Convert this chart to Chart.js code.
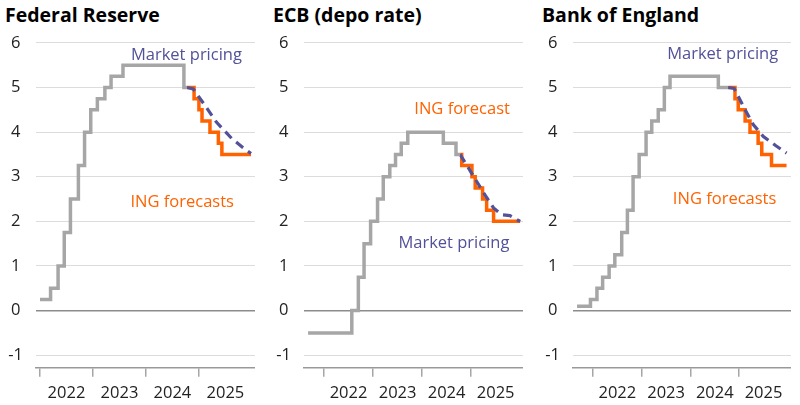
<!DOCTYPE html>
<html>
<head>
<meta charset="utf-8">
<script src="https://cdn.jsdelivr.net/npm/chart.js@4.4.1/dist/chart.umd.min.js"></script>
<style>
body { margin: 0; width: 800px; height: 405px; background: #fff; overflow: hidden; position: relative; font-family: "Open Sans", sans-serif; }
.title { position: absolute; top: 2px; font-weight: bold; font-size: 19.5px; color: #000; line-height: 26px; }
canvas { position: absolute; top: 20px; }
</style>
</head>
<body>
<div class="title" style="left:5px">Federal Reserve</div>
<div class="title" style="left:273px">ECB (depo rate)</div>
<div class="title" style="left:542px">Bank of England</div>
<canvas id="fed" width="255" height="385" style="left:0px"></canvas>
<canvas id="ecb" width="255" height="385" style="left:268px"></canvas>
<canvas id="boe" width="254" height="385" style="left:537px"></canvas>
<script>
// x values are months since Jan 2022
const yearTicks = [0, 12, 24, 36];
const rateTicks = [-1, 0, 1, 2, 3, 4, 5, 6];

const fedHistX = [0, 2.4, 4.1, 5.5, 6.9, 8.7, 10.1, 11.5, 13.0, 14.7, 16.1, 18.8, 32.6, 33.3];
const fedHistY = [0.25, 0.5, 1.0, 1.75, 2.5, 3.25, 4.0, 4.5, 4.75, 5.0, 5.25, 5.5, 5.0, 5.0];
const fedFcstX = [33.3, 34.9, 36.0, 36.7, 38.5, 40.4, 41.2, 47.8];
const fedFcstY = [5.0, 4.75, 4.5, 4.25, 4.0, 3.75, 3.5, 3.5];
const fedMktX = [33.3, 34.7, 37.7, 40.0, 43.4, 46.0, 47.8];
const fedMktY = [5.0, 4.97, 4.55, 4.22, 3.86, 3.65, 3.52];

const ecbHistX = [-3.9, 6.8, 8.4, 9.8, 11.4, 13.1, 14.5, 16.1, 17.5, 18.9, 20.5, 29.2, 32.3, 33.3];
const ecbHistY = [-0.5, 0, 0.75, 1.5, 2.0, 2.5, 3.0, 3.25, 3.5, 3.75, 4.0, 3.75, 3.5, 3.5];
const ecbFcstX = [33.3, 33.7, 36.2, 37.0, 38.8, 39.8, 41.5, 48.0];
const ecbFcstY = [3.5, 3.25, 3.0, 2.75, 2.5, 2.25, 2.0, 2.0];
const ecbMktX = [33.3, 36.0, 39.0, 41.5, 43.5, 45.5, 48.0];
const ecbMktY = [3.5, 3.1, 2.65, 2.3, 2.15, 2.13, 2.0];

const boeHistX = [-3.9, -0.6, 1.0, 2.4, 4.0, 5.4, 7.1, 8.5, 9.9, 11.4, 13.1, 14.5, 16.1, 17.6, 19.0, 30.9, 33.3];
const boeHistY = [0.1, 0.25, 0.5, 0.75, 1.0, 1.25, 1.75, 2.25, 3.0, 3.5, 4.0, 4.25, 4.5, 5.0, 5.25, 5.0, 5.0];
const boeFcstX = [33.3, 35.0, 35.8, 37.5, 38.7, 40.7, 41.6, 44.0, 47.7];
const boeFcstY = [5.0, 4.75, 4.5, 4.25, 4.0, 3.75, 3.5, 3.25, 3.25];
const boeMktX = [33.3, 34.8, 37.5, 39.5, 42.0, 45.0, 47.7];
const boeMktY = [5.0, 4.98, 4.5, 4.17, 3.9, 3.7, 3.53];

const GREY = '#a6a6a6';
const ORANGE = '#ff6200';
const PURPLE = '#525199';
const FONT = '"Open Sans", sans-serif';

function pts(xs, ys) {
    return xs.map((x, i) => ({ x: x, y: ys[i] }));
}

function makeChart(id, hist, fcst, mkt, xMin, xMax, notes) {
    const plotWidth = 219;
    const halfYear = plotWidth * 6 / (xMax - xMin);

    // text labels placed in data coordinates
    const notesPlugin = {
        id: 'notes',
        afterDatasetsDraw(chart) {
            const c = chart.ctx;
            c.save();
            c.font = '16.5px ' + FONT;
            c.textBaseline = 'middle';
            c.textAlign = 'left';
            notes.forEach(n => {
                c.fillStyle = n.color;
                c.fillText(n.text, chart.scales.x.getPixelForValue(n.x), chart.scales.y.getPixelForValue(n.y));
            });
            c.restore();
        }
    };

    return new Chart(document.getElementById(id), {
        type: 'line',
        data: {
            datasets: [
                { data: hist, borderColor: GREY, borderWidth: 3.5, stepped: 'before', pointRadius: 0 },
                { data: mkt, borderColor: PURPLE, borderWidth: 3.2, borderDash: [9, 6], pointRadius: 0, tension: 0 },
                { data: fcst, borderColor: ORANGE, borderWidth: 3.5, stepped: 'before', pointRadius: 0 }
            ]
        },
        options: {
            responsive: false,
            animation: false,
            layout: { padding: 0 },
            plugins: { legend: { display: false }, tooltip: { enabled: false } },
            scales: {
                x: {
                    type: 'linear',
                    min: xMin,
                    max: xMax,
                    afterBuildTicks: s => { s.ticks = yearTicks.map(v => ({ value: v })); },
                    afterFit: s => { s.height = 37.3; },
                    grid: { drawOnChartArea: false, drawTicks: true, tickLength: 9, color: GREY, lineWidth: 1.5 },
                    border: { display: true, color: '#999', width: 1.5 },
                    ticks: {
                        callback: v => String(2022 + v / 12),
                        labelOffset: halfYear,
                        padding: 7,
                        color: '#222',
                        font: { family: FONT, size: 16.5 },
                        maxRotation: 0,
                        autoSkip: false
                    }
                },
                y: {
                    min: -1.28,
                    max: 6,
                    afterBuildTicks: s => { s.ticks = rateTicks.map(v => ({ value: v })); },
                    afterFit: s => { s.width = 36; },
                    border: { display: false },
                    grid: {
                        drawTicks: false,
                        color: c => c.tick.value === 0 ? '#8c8c8c' : '#dcdcdc',
                        lineWidth: c => c.tick.value === 0 ? 1.6 : 1
                    },
                    ticks: {
                        crossAlign: 'center',
                        padding: 13,
                        color: '#222',
                        font: { family: FONT, size: 16.5 }
                    }
                }
            }
        },
        plugins: [notesPlugin]
    });
}

makeChart('fed', pts(fedHistX, fedHistY), pts(fedFcstX, fedFcstY), pts(fedMktX, fedMktY), -0.9, 48.7, [
    { text: 'Market pricing', x: 20.6, y: 5.72, color: PURPLE },
    { text: 'ING forecasts', x: 20.5, y: 2.42, color: ORANGE }
]);
makeChart('ecb', pts(ecbHistX, ecbHistY), pts(ecbFcstX, ecbFcstY), pts(ecbMktX, ecbMktY), -4.9, 48.7, [
    { text: 'ING forecast', x: 22.1, y: 4.51, color: ORANGE },
    { text: 'Market pricing', x: 18.2, y: 1.5, color: PURPLE }
]);
makeChart('boe', pts(boeHistX, boeHistY), pts(boeFcstX, boeFcstY), pts(boeMktX, boeMktY), -4.9, 48.8, [
    { text: 'Market pricing', x: 18.3, y: 5.74, color: PURPLE },
    { text: 'ING forecasts', x: 19.7, y: 2.49, color: ORANGE }
]);
</script>
</body>
</html>
